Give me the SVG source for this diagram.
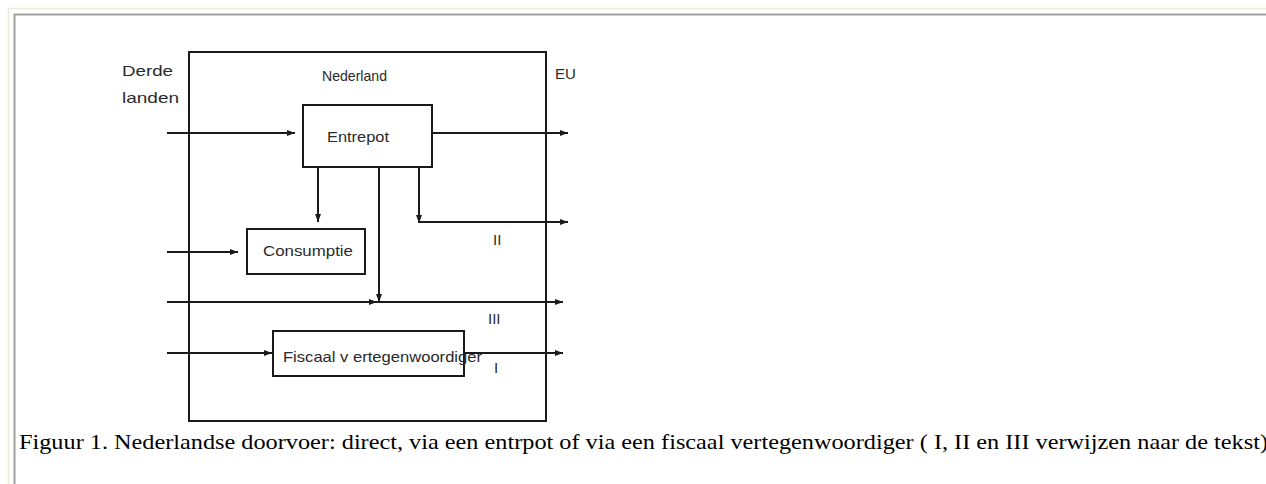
<svg xmlns="http://www.w3.org/2000/svg" width="1266" height="484" viewBox="0 0 1266 484">
<defs>
<style>
.ln{stroke:#1a1a1a;stroke-width:2;fill:none}
.bx{stroke:#1a1a1a;stroke-width:2;fill:#fff}
.t{font-family:"Liberation Sans",Arial,sans-serif;font-size:15px;fill:#2a2a2a}
.cap{font-family:"Liberation Serif","Times New Roman",serif;font-size:21px;fill:#000}
</style>
<marker id="ah" viewBox="0 0 8 8" refX="8" refY="4" markerWidth="8" markerHeight="8" markerUnits="userSpaceOnUse" orient="auto">
<path d="M0,1 L8,4 L0,7 Z" fill="#1a1a1a"/>
</marker>
</defs>
<rect width="1266" height="484" fill="#fff"/>
<g id="frame">
<path d="M8.5,484 V8.5 H1266" stroke="#ece9d8" stroke-width="1.5" fill="none"/>
<path d="M14.5,484 V14.5 H1266" stroke="#a0a09a" stroke-width="2" fill="none"/>
</g>
<g id="nederland">
<rect class="ln" x="189" y="52" width="357" height="369"/>
<text class="t" x="322" y="81" textLength="65" lengthAdjust="spacingAndGlyphs">Nederland</text>
</g>
<g id="labels">
<text class="t" x="122" y="76" textLength="51" lengthAdjust="spacingAndGlyphs">Derde</text>
<text class="t" x="122" y="103" textLength="57" lengthAdjust="spacingAndGlyphs">landen</text>
<text class="t" x="555" y="79">EU</text>
<text class="t" x="493" y="245">II</text>
<text class="t" x="488" y="324">III</text>
<text class="t" x="494" y="373">I</text>
</g>
<g id="connectors">
<line class="ln" x1="167" y1="133" x2="295" y2="133" marker-end="url(#ah)"/>
<line class="ln" x1="433" y1="133" x2="568" y2="133" marker-end="url(#ah)"/>
<line class="ln" x1="318" y1="167" x2="318" y2="222" marker-end="url(#ah)"/>
<line class="ln" x1="379" y1="167" x2="379" y2="302" marker-end="url(#ah)"/>
<line class="ln" x1="419" y1="167" x2="419" y2="223" marker-end="url(#ah)"/>
<line class="ln" x1="418" y1="222" x2="568" y2="222" marker-end="url(#ah)"/>
<line class="ln" x1="167" y1="252" x2="238" y2="252" marker-end="url(#ah)"/>
<line class="ln" x1="167" y1="302" x2="377" y2="302" marker-end="url(#ah)"/>
<line class="ln" x1="376" y1="302" x2="563" y2="302" marker-end="url(#ah)"/>
<line class="ln" x1="167" y1="353" x2="272" y2="353" marker-end="url(#ah)"/>
<line class="ln" x1="464" y1="353" x2="563" y2="353" marker-end="url(#ah)"/>
</g>
<g id="entrepot">
<rect class="bx" x="303" y="105" width="129" height="62"/>
<text class="t" x="327" y="142" textLength="62" lengthAdjust="spacingAndGlyphs">Entrepot</text>
</g>
<g id="consumptie">
<rect class="bx" x="247" y="229" width="118" height="45"/>
<text class="t" x="263" y="256" textLength="90" lengthAdjust="spacingAndGlyphs">Consumptie</text>
</g>
<g id="fiscaal">
<rect class="bx" x="273" y="331" width="191" height="45"/>
<text class="t" x="283" y="362" textLength="199" lengthAdjust="spacingAndGlyphs">Fiscaal v ertegenwoordiger</text>
</g>
<g id="caption">
<text class="cap" x="19" y="449" textLength="1249" lengthAdjust="spacingAndGlyphs">Figuur 1. Nederlandse doorvoer: direct, via een entrpot of via een fiscaal vertegenwoordiger ( I, II en III verwijzen naar de tekst)</text>
</g>
</svg>
